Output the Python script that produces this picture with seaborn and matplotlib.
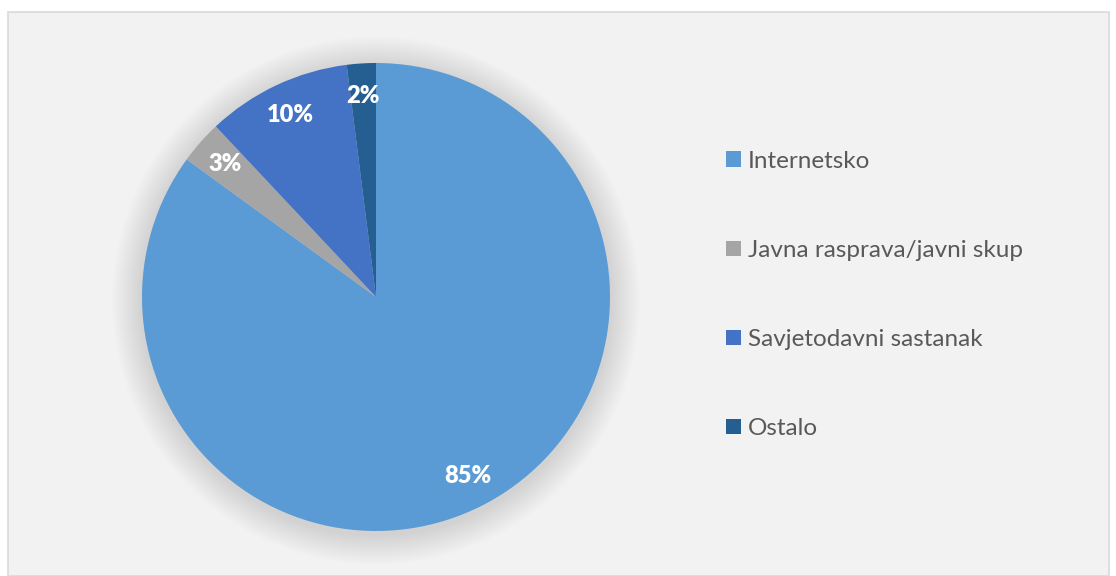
import matplotlib
matplotlib.use("Agg")
import matplotlib.pyplot as plt
from matplotlib.patches import Rectangle, Circle
import seaborn as sns

categories = ["Internetsko", "Javna rasprava/javni skup", "Savjetodavni sastanak", "Ostalo"]
shares = [85, 3, 10, 2]
colors = ["#5B9BD5", "#A5A5A5", "#4472C4", "#255E91"]

sns.set_theme(style="white")
plt.rcParams['font.family'] = ['Lato', 'DejaVu Sans']

fig = plt.figure(figsize=(11.16, 5.76), dpi=100)
fig.patch.set_facecolor("white")
fig.patches.append(Rectangle((8 / 1116, 0), 1101 / 1116, 564 / 576, transform=fig.transFigure,
                             facecolor="#F2F2F2", edgecolor="#D9D9D9", linewidth=1.2, zorder=-5))

ax = fig.add_axes([142 / 1116, 45 / 576, 468 / 1116, 468 / 576])
ax.set_facecolor("none")
ax.set_zorder(1)

# soft shadow behind the pie
for i in range(16):
    r = 1.0 + 0.008 * (16 - i)
    ax.add_patch(Circle((0, -0.015), r, facecolor="#000000", alpha=0.008, edgecolor="none",
                        clip_on=False, zorder=0))

wedges, texts, autotexts = ax.pie(shares, colors=colors, startangle=90, counterclock=False,
                                  autopct='%1.0f%%', pctdistance=0.86, radius=1,
                                  wedgeprops=dict(linewidth=0))
for w in wedges:
    w.set_zorder(2)
for t in autotexts:
    t.set_color("white")
    t.set_fontweight("heavy")
    t.set_fontsize(17)
    t.set_zorder(3)
ax.set_xlim(-1, 1)
ax.set_ylim(-1, 1)
ax.set_aspect('equal')
ax.axis('off')

leg = fig.legend(wedges, categories, loc='center left', bbox_to_anchor=(716 / 1116, 1 - 295 / 576),
                 frameon=False, fontsize=17.5, labelcolor="#595959", handlelength=0.62, handleheight=0.62,
                 handletextpad=0.3, labelspacing=2.8, borderaxespad=0)

fig.savefig("out.png", dpi=100)
